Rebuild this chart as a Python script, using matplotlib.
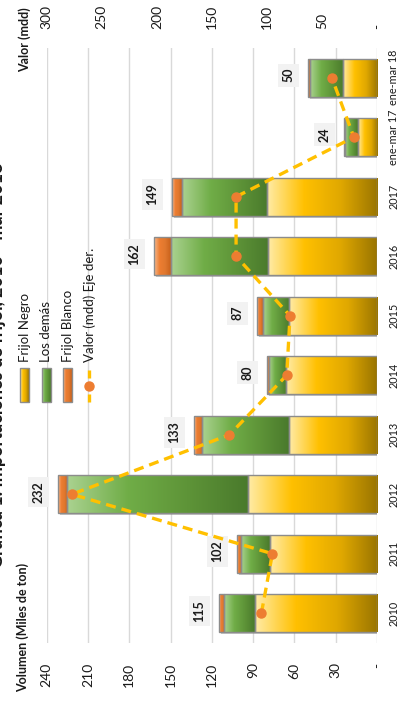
import numpy as np
import matplotlib.pyplot as plt
import matplotlib.patheffects as pe
from matplotlib.colors import LinearSegmentedColormap
from matplotlib.patches import Rectangle

plt.rcParams['font.family'] = ['Lato', 'DejaVu Sans']

categorias = ['2010', '2011', '2012', '2013', '2014', '2015', '2016', '2017',
              'ene-mar 17', 'ene-mar 18']
# volumen en miles de toneladas
frijol_negro = [89, 78, 94, 64, 66, 64, 79, 80, 14, 25]
los_demas = [22, 21, 131, 63, 12.5, 19, 71, 62, 9, 24]
frijol_blanco = [4, 3, 7, 6, 1.5, 4, 12, 7, 1, 1]
# valor en millones de dolares (eje derecho)
valor_mdd = [105, 95, 277, 134, 82, 79, 128, 128, 21, 41]

series = ['Frijol Negro', 'Los demás', 'Frijol Blanco']
serie_linea = 'Valor (mdd) Eje der.'
titulo = 'Gráfica 1. Importaciones de frijol, 2010 - mar 2018'
ticks_vol = [0, 30, 60, 90, 120, 150, 180, 210, 240]
ticks_valor = [0, 50, 100, 150, 200, 250, 300]

# degradados: base oscura -> extremo claro
gamas = [['#9A7500', '#E0A800', '#FFC000', '#FFEBA6'],
         ['#4A7A2C', '#5E9438', '#70AD47', '#AAD290'],
         ['#C8601A', '#E0782E', '#ED7D31', '#F6B98E']]
medios = ['#FFC000', '#70AD47', '#ED7D31']
cmaps = [LinearSegmentedColormap.from_list('g%d' % i, g) for i, g in enumerate(gamas)]
gris_borde = '#8C8C8C'

W, H = 401, 708
fig = plt.figure(figsize=(W / 100, H / 100), dpi=100)
ax = fig.add_axes([46.7 / W, 1 - 643 / H, (377 - 46.7) / W, (643 - 48) / H])

y = np.arange(len(categorias))
alto = 0.64
grad = np.linspace(0, 1, 128).reshape(1, -1)
base = np.zeros(len(categorias))
sombra = [pe.SimplePatchShadow(offset=(1.5, -1.5), shadow_rgbFace='#808080', alpha=0.45),
          pe.Normal()]
for valores, cmap, medio in zip([frijol_negro, los_demas, frijol_blanco], cmaps, medios):
    valores = np.array(valores, dtype=float)
    barras = ax.barh(y, valores, left=base, height=alto, color=medio, zorder=2,
                     path_effects=sombra)
    for r in barras:
        x0, w, y0, h = r.get_x(), r.get_width(), r.get_y(), r.get_height()
        im = ax.imshow(grad, cmap=cmap, aspect='auto', interpolation='bilinear',
                       extent=(x0, x0 + w, y0, y0 + h), zorder=2.5)
        im.set_clip_path(r)
    ax.barh(y, valores, left=base, height=alto, fill=False, edgecolor=gris_borde,
            linewidth=1, zorder=3)
    base = base + valores

# etiquetas de total
for yi, total in zip(y, base):
    ax.annotate('%.0f' % total, xy=(total, yi), xytext=(-14, 1.8),
                textcoords='offset points', rotation=90, ha='center', va='center',
                fontsize=9, fontweight='bold', color='#1a1a1a', zorder=6,
                bbox=dict(boxstyle='square,pad=0.35', fc='#F2F2F2', ec='none'))

ax.set_xlim(240, 0)
ax.set_ylim(-0.5, len(categorias) - 0.5)
ax.set_xticks(ticks_vol, ['-' if t == 0 else str(t) for t in ticks_vol])
ax.yaxis.tick_right()
ax.set_yticks(y, categorias)
ax.tick_params(axis='x', length=0, pad=14, labelsize=10, labelrotation=90,
               colors='#1a1a1a')
ax.tick_params(axis='y', length=0, pad=8, labelsize=7.8, labelrotation=90,
               colors='#1a1a1a')
for lbl in ax.get_yticklabels():
    lbl.set_va('center')
ax.grid(axis='x', color='#D9D9D9', linewidth=1)
ax.set_axisbelow(True)
for s in ax.spines.values():
    s.set_visible(False)

# linea de valor sobre el eje secundario
ax2 = ax.twiny()
ax2.patch.set_visible(False)
ax2.plot(valor_mdd, y, color='#FFC000', linewidth=2.4, dashes=(3, 1.8),
         marker='o', markersize=6.5, markerfacecolor='#ED7D31',
         markeredgecolor='#ED7D31', zorder=5)
ax2.set_xlim(300, 0)
ax2.set_xticks(ticks_valor, ['-' if t == 0 else str(t) for t in ticks_valor])
ax2.tick_params(axis='x', length=0, pad=14, labelsize=10, labelrotation=90,
                colors='#1a1a1a')
for s in ax2.spines.values():
    s.set_visible(False)

# capa en pixeles para titulos y leyenda
lax = fig.add_axes([0, 0, 1, 1])
lax.set_xlim(0, W)
lax.set_ylim(H, 0)
lax.axis('off')
lax.patch.set_visible(False)

lax.text(6, 365, titulo, rotation=90, ha='right', va='center', fontsize=13,
         fontweight='bold', color='#1a1a1a')
lax.text(22.5, 692, 'Volumen (Miles de ton)', rotation=90, ha='center', va='bottom',
         fontsize=9, fontweight='bold', color='#1a1a1a')
lax.text(25, 7, 'Valor (mdd)', rotation=90, ha='center', va='top',
         fontsize=9, fontweight='bold', color='#1a1a1a')

xs_leyenda = [24.7, 46.2, 67.8, 89.3]
for xc, nombre, cmap in zip(xs_leyenda, series, cmaps):
    im = lax.imshow(grad[:, ::-1], cmap=cmap, aspect='auto', interpolation='bilinear',
                    extent=(xc - 4.5, xc + 4.5, 402, 368), zorder=3)
    lax.add_patch(Rectangle((xc - 4.5, 368), 9, 34, fill=False, edgecolor=gris_borde,
                            linewidth=1, zorder=4))
    lax.text(xc, 362, nombre, rotation=90, ha='center', va='bottom', fontsize=9.5,
             color='#1a1a1a')
xl = xs_leyenda[3]
lax.plot([xl, xl], [370, 402], color='#FFC000', linewidth=2.4, dashes=(2.4, 1.2))
lax.plot([xl], [386], marker='o', markersize=6.5, color='#ED7D31')
lax.text(xl, 362, serie_linea, rotation=90, ha='center', va='bottom', fontsize=9.5,
         color='#1a1a1a')
lax.set_xlim(0, W)
lax.set_ylim(H, 0)

fig.savefig('out.png', dpi=100)
